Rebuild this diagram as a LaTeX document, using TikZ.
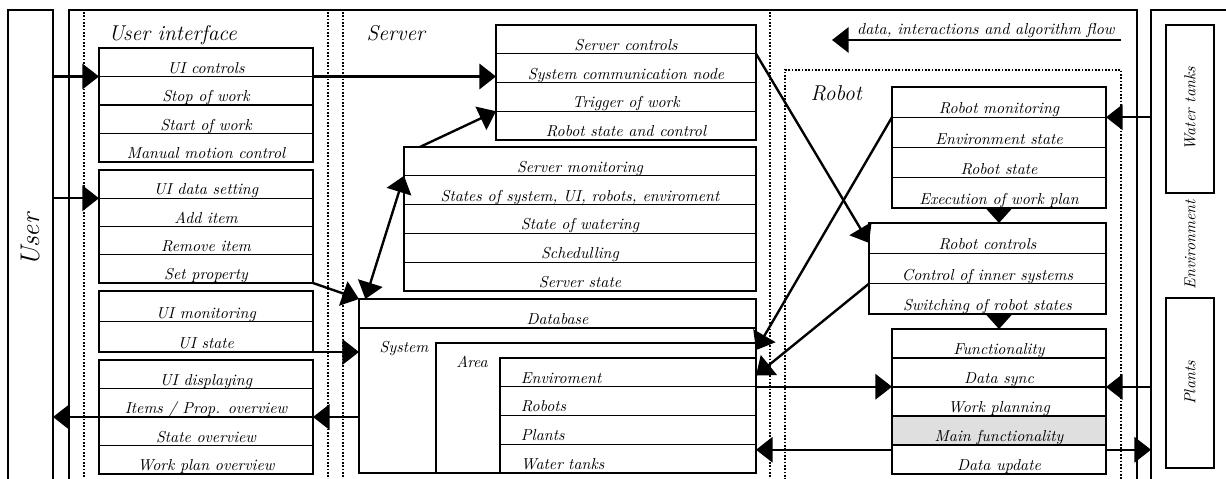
\documentclass[tikz,border=0pt]{standalone}
\usepackage{tikz}
\usetikzlibrary{arrows.meta,backgrounds}

\newcommand{\pxu}{0.63}
\tikzset{
  frame/.style={draw, line width=1.6pt, inner sep=0pt, outer sep=0pt},
  cell/.style={draw, line width=0.7pt, inner sep=0pt, outer sep=0pt, font=\itshape, text depth=2.2pt},
  zone/.style={line width=1.5pt, dash pattern=on 1.1pt off 1pt},
  flow/.style={>={Triangle[length=10.5pt,width=16pt]}, ->, line width=1.5pt},
  title/.style={font=\fontsize{13.5}{16}\selectfont\itshape, anchor=base west},
}

% table of rows: name, left, right, top, bottom, rows
\newcommand{\cellbox}[6]{%
  \foreach \txt [count=\n] in {#6} {\xdef\cbn{\n}}
  \pgfmathsetmacro{\cbw}{(#3-#2)*\pxu}
  \pgfmathsetmacro{\cbh}{(#5-#4)/\cbn}
  \pgfmathsetmacro{\cbhh}{\cbh*\pxu}
  \pgfmathsetmacro{\cbth}{\cbhh-2.2}
  \foreach \txt [count=\i] in {#6} {
    \node[cell, minimum width=\cbw pt, minimum height=\cbhh pt, text height=\cbth pt]
      (#1-\i) at ({(#2+#3)/2}, {#4+(\i-0.5)*\cbh}) {\txt};
  }
  \draw[frame] (#1-1.north west) rectangle (#1-\cbn.south east);
}

\begin{document}
\begin{tikzpicture}[x=0.63pt, y=-0.63pt]
  \useasboundingbox (0,0) rectangle (1226,479);

  % frames
  \node[frame, minimum width=28.35pt, minimum height=302.4pt] (user) at (30.5,250) {};
  \node[rotate=90, font=\fontsize{17}{20}\selectfont\itshape] (usertxt) at (30.5,240) {User};
  \draw[frame] (69,490) |- (1137,10) -- (1137,490);
  \node[frame, minimum width=51pt, minimum height=302.4pt] (env) at (1191.5,250) {};
  \node[rotate=90, font=\itshape] (envtxt) at (1190,245) {Environment};
  \node[frame, rotate=90, minimum width=105.8pt, minimum height=30.2pt, font=\itshape] (tanks) at (1190,109) {Water tanks};
  \node[frame, rotate=90, minimum width=107.1pt, minimum height=30.2pt, font=\itshape] (plants) at (1190,383) {Plants};

  % zones
  \foreach \x in {84,328,343,770}
    \draw[zone] (\x,12) -- (\x,490);
  \draw[zone] (785,490) |- (1121,70) -- (1121,490);
  \node[title] (uiname) at (103,41) {User interface};
  \node[title] (srvname) at (361,41) {Server};
  \node[title] (robname) at (805,101) {Robot};

  % user interface
  \cellbox{uictl}{99}{313}{48}{162}{UI controls, Stop of work, Start of work, Manual motion control}
  \cellbox{uiset}{99}{313}{170}{283}{UI data setting, Add item, Remove item, Set property}
  \cellbox{uimon}{99}{313}{291}{352}{UI monitoring, UI state}
  \cellbox{uidisp}{99}{313}{360}{474}{UI displaying, {Items / Prop. overview}, State overview, Work plan overview}

  % server
  \cellbox{srvctl}{496}{756}{25}{140}{Server controls, System communication node, Trigger of work, Robot state and control}
  \cellbox{srvmon}{404}{756}{147}{291}{Server monitoring, {States of system, UI, robots, enviroment}, State of watering, Schedulling, Server state}
  \cellbox{db}{359}{756}{299}{328}{Database}
  \node[font=\itshape, anchor=base] (systxt) at (404,353) {System};
  \draw[line width=0.7pt] (436,473) |- (756,343);
  \node[font=\itshape, anchor=base] (areatxt) at (472,368) {Area};
  \foreach \txt [count=\i] in {Enviroment, Robots, Plants, Water tanks}
    \node[cell, minimum width=161.3pt, minimum height=18.11pt, text height=15.9pt,
      text width=134.9pt, inner xsep=13.2pt, align=left]
      (dbrow-\i) at (628, {358+(\i-0.5)*28.75}) {\txt};
  \draw[frame] (db-1.north west) rectangle (756,473);

  % robot
  \cellbox{robmon}{892}{1106}{87}{208}{Robot monitoring, Environment state, Robot state, Execution of work plan}
  \cellbox{robctl}{869}{1106}{223}{314}{Robot controls, Control of inner systems, Switching of robot states}
  \cellbox{func}{892}{1106}{329}{474}{Functionality, Data sync, Work planning, Main functionality, Data update}
  \begin{pgfonlayer}{background}
    \fill[gray!25] (func-4.north west) rectangle (func-4.south east);
  \end{pgfonlayer}

  % legend
  \coordinate (legR) at (1121,40);
  \coordinate (legL) at (832,40);
  \draw[flow] (legR) -- (legL);
  \node[font=\itshape, anchor=base east] (legtxt) at (1120,35) {data, interactions and algorithm flow};

  % flows
  \draw[flow] (user.east |- uictl-1.south west) -- (uictl-1.south west);
  \draw[flow] (user.east |- uiset-1.south west) -- (uiset-1.south west);
  \draw[flow] (uictl-1.south east) -- (srvctl-1.west |- uictl-1.south east);
  \draw[flow] (uiset-4.south east) -- (db-1.north west);
  \draw[flow] (uimon-2.south east) -- (db-1.west |- uimon-2.south east);
  \draw[flow] (db-1.west |- uidisp-2.south east) -- (uidisp-2.south east);
  \draw[flow] (uidisp-2.south west) -- (user.east |- uidisp-2.south west);
  \draw[flow, <->] ([xshift=4pt]db-1.north west) -- (srvmon-1.south west);
  \draw[flow] ([xshift=10pt]srvmon-1.north west) -- (srvctl-3.south west);
  \draw[flow] (srvctl-1.south east) -- ([yshift=-3pt]robctl-1.west);
  \draw[flow] (robmon-1.south west) -- ([yshift=5pt]dbrow-1.north east);
  \draw[flow] (robctl-2.south west) -- ([yshift=-2pt]dbrow-1.east);
  \draw[flow] (dbrow-1.south east) -- (dbrow-1.south east -| func-2.west);
  \draw[flow] ([yshift=-3pt]func-4.south west) -- ([yshift=-3pt]func-4.south west -| dbrow-4.east);
  \draw[flow] ([yshift=-3pt]func-4.south east) -- ([yshift=-3pt]func-4.south east -| env.west);
  \draw[flow] (env.west |- robmon-1.south east) -- (robmon-1.south east);
  \draw[flow] (env.west |- func-2.south east) -- (func-2.south east);
  % short steps inside the robot
  \fill ([xshift=-8.5pt]robmon-4.south) -- ([xshift=8.5pt]robmon-4.south) -- (robmon-4.south |- robctl-1.north) -- cycle;
  \fill ([xshift=-8.5pt]func-1.north |- robctl-3.south) -- ([xshift=8.5pt]func-1.north |- robctl-3.south) -- (func-1.north) -- cycle;
\end{tikzpicture}
\end{document}
